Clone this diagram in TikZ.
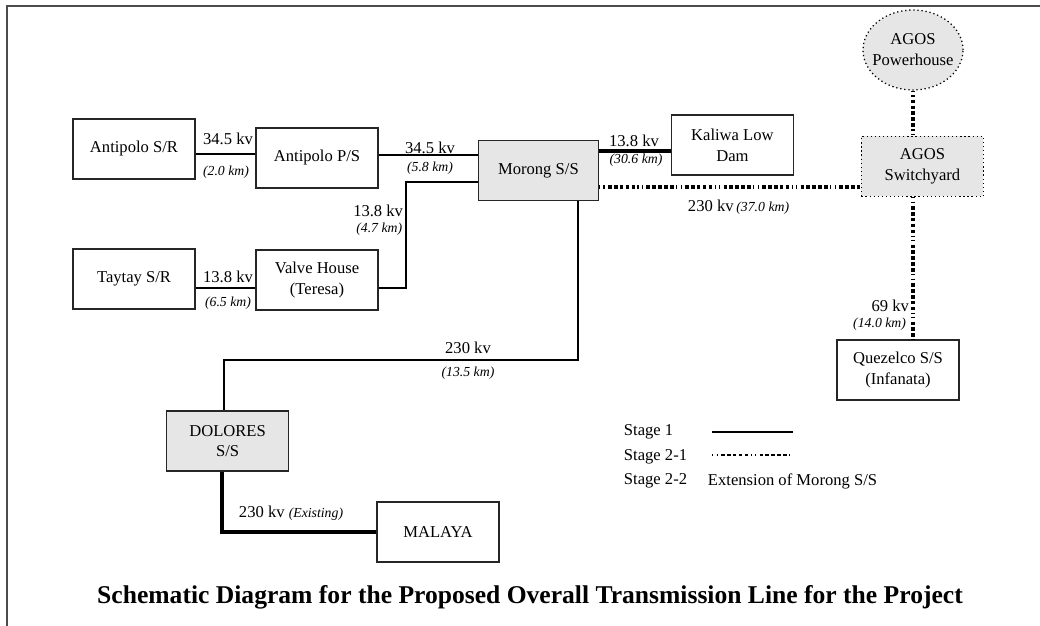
\documentclass[tikz,border=0pt]{standalone}
\usepackage{fontspec}
\setmainfont{Liberation Serif}
\usepackage{xcolor}
\usepackage{tikz}
\usetikzlibrary{shapes.geometric,positioning,calc}
\definecolor{ssgray}{RGB}{230,230,230}
\tikzset{
  box/.style={rectangle, draw=black!85, line width=0.8pt, minimum width=3.05cm, minimum height=1.5cm, align=center, inner sep=2pt, font=\fontsize{11.8}{14.8}\selectfont},
  ssbox/.style={box, fill=ssgray},
  agosbox/.style={box, fill=ssgray, draw=black, line width=0.9pt, dash pattern=on 0.9pt off 2pt},
  kv/.style={inner sep=0.5pt, font=\fontsize{11.8}{14}\selectfont},
  km/.style={inner sep=0.5pt, font=\fontsize{9.8}{12}\selectfont\itshape},
  stgone/.style={line width=0.8pt},
  stgonethick/.style={line width=2.6pt},
  stgtwo/.style={line width=2.2pt, dash pattern=on 1pt off 2.2pt on 1pt off 2.2pt on 2.6pt off 1.6pt on 2.6pt off 1.6pt on 2.6pt off 1.6pt on 2.6pt off 1.6pt on 2.6pt off 1.6pt},
}
\begin{document}
\begin{tikzpicture}
  \useasboundingbox (0,0) rectangle (26,15.65);
  % frame
  \draw[black!70, line width=1.3pt] (26,15.5) -- (0.175,15.5) -- (0.175,0);

  % stations
  \node[box] (asr) at (3.35,11.925) {Antipolo S/R};
  \node[box] (aps) at (7.925,11.7) {Antipolo P/S};
  \node[ssbox, minimum width=3cm] (mor) at (13.46,11.39) {Morong S/S};
  \node[box] (kal) at (18.31,12.025) {Kaliwa Low\\Dam};
  \node[agosbox, ellipse, minimum width=2.5cm, minimum height=2cm, inner xsep=-8pt, inner ysep=-4pt] (aph) at (22.825,14.4) {AGOS\\Powerhouse};
  \node[agosbox] (asy) at (23.06,11.49) {AGOS\\Switchyard};
  \node[box] (tay) at (3.35,8.675) {Taytay S/R};
  \node[box] (vh) at (7.925,8.65) {Valve House\\(Teresa)};
  \node[box] (qz) at (22.45,6.4) {Quezelco S/S\\(Infanata)};
  \node[ssbox] (dol) at (5.69,4.625) {DOLORES\\S/S};
  \node[box] (mal) at (10.95,2.35) {MALAYA};

  % stage 1 lines
  \coordinate (vbend) at (10.15,8.45);
  \coordinate (dbend) at (5.6,6.65);
  \draw[stgone] (asr.east |- 0,11.8) -- (aps.west |- 0,11.8);
  \draw[stgone] (aps.east |- 0,11.775) -- (mor.west |- 0,11.775);
  \draw[stgone] (mor.west |- 0,11.1) -| (vbend) -- (vh.east |- vbend);
  \draw[stgone] (tay.east |- vbend) -- (vh.west |- vbend);
  \draw[stgonethick] (mor.east |- 0,11.875) -- (kal.west |- 0,11.875);
  \draw[stgone] (mor.south -| 14.45,0) |- (dbend) -- (dol.north -| dbend);
  \draw[stgonethick] (dol.south -| 5.55,0) |- (mal.west);

  % stage 2-1 lines
  \draw[stgtwo] (mor.east |- 0,10.975) -- (asy.west |- 0,10.975);
  \draw[stgtwo] (aph.south) -- (aph.south |- asy.north);
  \draw[stgtwo] (asy.south -| aph.south) -- (qz.north -| aph.south);

  % voltage and length labels
  \node[kv] (kva) at (5.7,12.175) {34.5 kv};
  \node[km] (kma) at (5.65,11.35) {(2.0 km)};
  \node[kv] (kvb) at (10.75,11.95) {34.5 kv};
  \node[km] (kmb) at (10.75,11.45) {(5.8 km)};
  \node[kv, anchor=east] (kvc) at (10.1,10.38) {13.8 kv};
  \node[km, anchor=east] (kmc) at (10.08,9.93) {(4.7 km)};
  \node[kv] (kvd) at (5.7,8.725) {13.8 kv};
  \node[km] (kmd) at (5.7,8.075) {(6.5 km)};
  \node[kv] (kve) at (15.85,12.125) {13.8 kv};
  \node[km] (kme) at (15.9,11.65) {(30.6 km)};
  \node[kv, anchor=west] (kvf) at (17.175,10.475) {230 kv\,{\fontsize{9.8}{12}\selectfont\itshape(37.0 km)}};
  \node[kv, anchor=east] (kvg) at (22.75,8.0) {69 kv};
  \node[km, anchor=east] (kmg) at (22.675,7.55) {(14.0 km)};
  \node[kv] (kvh) at (11.7,6.95) {230 kv};
  \node[km] (kmh) at (11.7,6.325) {(13.5 km)};
  \node[kv, anchor=west] (kvi) at (5.95,2.825) {230 kv {\fontsize{9.8}{12}\selectfont\itshape(Existing)}};

  % legend
  \node[kv, anchor=west] (lgone) at (15.575,4.85) {Stage 1};
  \node[kv, anchor=west] (lgtwo) at (15.575,4.225) {Stage 2-1};
  \node[kv, anchor=west] (lgthree) at (15.575,3.625) {Stage 2-2};
  \node[kv, anchor=west] (lgext) at (17.675,3.625) {Extension of Morong S/S};
  \coordinate (lgonea) at (17.8,4.85);
  \coordinate (lgoneb) at (19.825,4.85);
  \coordinate (lgtwoa) at (17.8,4.275);
  \coordinate (lgtwob) at (19.825,4.275);
  \draw[line width=1.8pt] (lgonea) -- (lgoneb);
  \draw[stgtwo, line width=1.7pt] (lgtwoa) -- (lgtwob);

  % title
  \node[font=\bfseries\fontsize{18.2}{22}\selectfont] (title) at (13.25,0.725) {Schematic Diagram for the Proposed Overall Transmission Line for the Project};
\end{tikzpicture}
\end{document}
